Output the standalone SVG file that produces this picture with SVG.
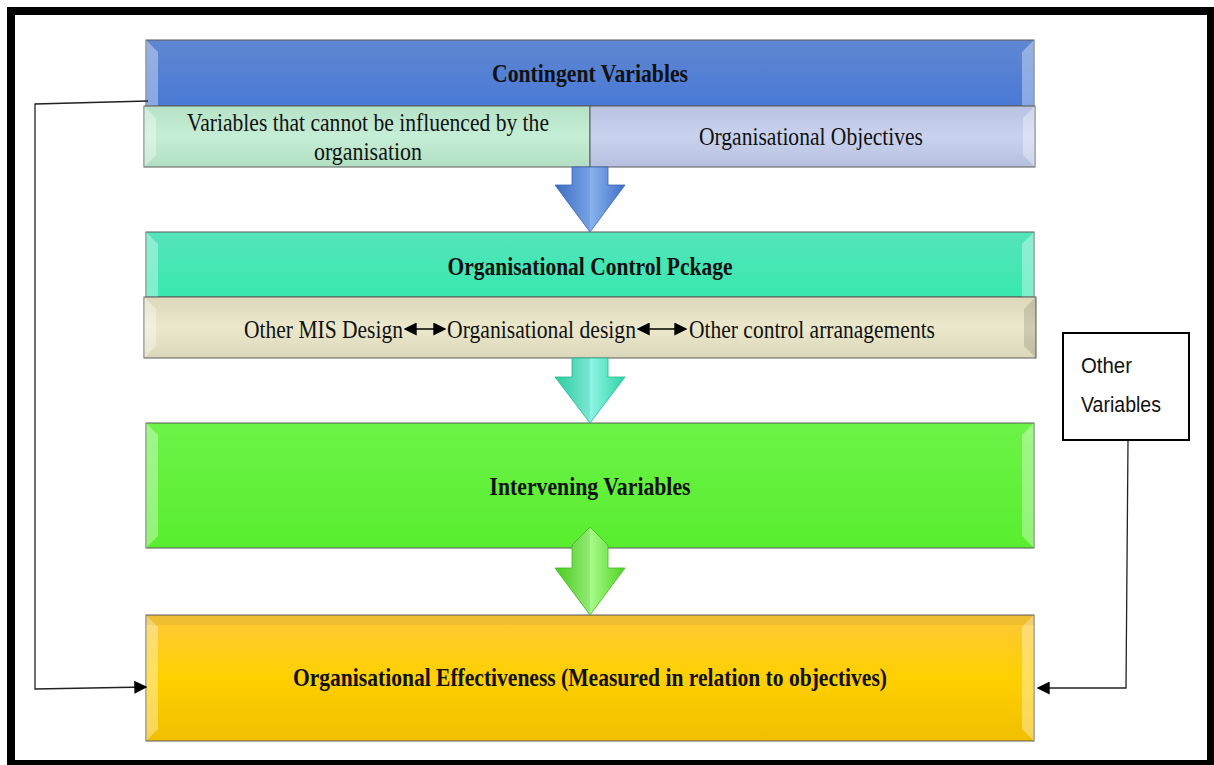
<svg xmlns="http://www.w3.org/2000/svg" width="1214" height="765" viewBox="0 0 1214 765">
<style>
.t{font-family:"Liberation Serif","Times New Roman",serif;font-size:25px;fill:#111}
.b{font-weight:bold}
.s{font-family:"Liberation Sans",Arial,sans-serif;font-size:22px;fill:#111}
.box{stroke:#5a5a5a;stroke-width:1}
.hl{fill:#ffffff;opacity:0.35}
.dk{fill:#000000;opacity:0.12}
.ln{fill:none;stroke:#222;stroke-width:1.3}
</style>
<defs>
<linearGradient id="gBlue" x1="0" y1="0" x2="0" y2="1"><stop offset="0" stop-color="#5f87d2"/><stop offset="1" stop-color="#4a7ad6"/></linearGradient>
<linearGradient id="gMint" x1="0" y1="0" x2="0" y2="1"><stop offset="0" stop-color="#b5e2c6"/><stop offset="0.5" stop-color="#c4eed6"/><stop offset="1" stop-color="#b2dfc3"/></linearGradient>
<linearGradient id="gLav" x1="0" y1="0" x2="0" y2="1"><stop offset="0" stop-color="#b9c2e1"/><stop offset="0.5" stop-color="#c9d2ee"/><stop offset="1" stop-color="#b6bfde"/></linearGradient>
<linearGradient id="gTeal" x1="0" y1="0" x2="0" y2="1"><stop offset="0" stop-color="#55e4bb"/><stop offset="1" stop-color="#38e8b0"/></linearGradient>
<linearGradient id="gBeige" x1="0" y1="0" x2="0" y2="1"><stop offset="0" stop-color="#ddd8bc"/><stop offset="0.5" stop-color="#ebe8cc"/><stop offset="1" stop-color="#dcd7bb"/></linearGradient>
<linearGradient id="gGreen" x1="0" y1="0" x2="0" y2="1"><stop offset="0" stop-color="#6cf348"/><stop offset="1" stop-color="#58ee2e"/></linearGradient>
<linearGradient id="gGold" x1="0" y1="0" x2="0" y2="1"><stop offset="0" stop-color="#fcc838"/><stop offset="0.5" stop-color="#ffd000"/><stop offset="1" stop-color="#f0bf00"/></linearGradient>
<linearGradient id="aBlue" x1="0" y1="0" x2="1" y2="0"><stop offset="0" stop-color="#3f6fc8"/><stop offset="0.5" stop-color="#8ab4ee"/><stop offset="1" stop-color="#3f6fc8"/></linearGradient>
<linearGradient id="aTeal" x1="0" y1="0" x2="1" y2="0"><stop offset="0" stop-color="#2fd4a6"/><stop offset="0.5" stop-color="#8ff5e6"/><stop offset="1" stop-color="#2fd4a6"/></linearGradient>
<linearGradient id="aGreen" x1="0" y1="0" x2="1" y2="0"><stop offset="0" stop-color="#4ed422"/><stop offset="0.5" stop-color="#a8fb8a"/><stop offset="1" stop-color="#4ed422"/></linearGradient>
<marker id="ah2" viewBox="0 0 10 10" refX="9" refY="5" markerWidth="13" markerHeight="13" markerUnits="userSpaceOnUse" orient="auto-start-reverse"><path d="M0,0 L10,5 L0,10 Z" fill="#000"/></marker>
</defs>
<rect x="0" y="0" width="1214" height="765" fill="#fff"/>
<rect x="11" y="11" width="1200" height="753" fill="#fff" stroke="#000" stroke-width="8"/>

<g id="contingent">
<rect class="box" x="146" y="40" width="888" height="66" fill="url(#gBlue)"/>
<polygon class="hl" points="146,40 158,52 158,106 146,106"/>
<polygon class="hl" points="1034,40 1022,52 1022,106 1034,106"/>
<text class="t b" x="590" y="82" text-anchor="middle" textLength="196" lengthAdjust="spacingAndGlyphs">Contingent Variables</text>
</g>
<g id="uncontrollable">
<rect class="box" x="144" y="106" width="446" height="61" fill="url(#gMint)"/>
<polygon class="hl" points="144,106 156,118 156,155 144,167"/>
<text class="t" x="368" y="131" text-anchor="middle" textLength="362" lengthAdjust="spacingAndGlyphs">Variables that cannot be influenced by the</text>
<text class="t" x="368" y="160" text-anchor="middle" textLength="108" lengthAdjust="spacingAndGlyphs">organisation</text>
</g>
<g id="objectives">
<rect class="box" x="590" y="106" width="445" height="61" fill="url(#gLav)"/>
<polygon class="hl" points="1035,106 1023,118 1023,155 1035,167"/>
<text class="t" x="811" y="145" text-anchor="middle" textLength="224" lengthAdjust="spacingAndGlyphs">Organisational Objectives</text>
</g>

<g id="control">
<rect class="box" x="146" y="232" width="888" height="65" fill="url(#gTeal)"/>
<polygon class="hl" points="146,232 158,244 158,297 146,297"/>
<polygon class="hl" points="1034,232 1022,244 1022,297 1034,297"/>
<text class="t b" x="590" y="275" text-anchor="middle" textLength="285" lengthAdjust="spacingAndGlyphs">Organisational Control Pckage</text>
</g>
<g id="designs">
<rect class="box" x="144" y="297" width="892" height="61" fill="url(#gBeige)"/>
<polygon class="hl" points="144,297 156,309 156,346 144,358"/>
<polygon class="dk" points="1036,297 1024,309 1024,346 1036,358"/>
<text class="t" x="244" y="338" textLength="159" lengthAdjust="spacingAndGlyphs">Other MIS Design</text>
<line x1="405" y1="329" x2="445" y2="329" stroke="#000" stroke-width="1.5" marker-start="url(#ah2)" marker-end="url(#ah2)"/>
<text class="t" x="447" y="338" textLength="189" lengthAdjust="spacingAndGlyphs">Organisational design</text>
<line x1="638" y1="329" x2="686" y2="329" stroke="#000" stroke-width="1.5" marker-start="url(#ah2)" marker-end="url(#ah2)"/>
<text class="t" x="689" y="338" textLength="246" lengthAdjust="spacingAndGlyphs">Other control arranagements</text>
</g>

<g id="intervening">
<rect class="box" x="146" y="423" width="888" height="125" fill="url(#gGreen)"/>
<polygon class="hl" points="146,423 158,435 158,536 146,548"/>
<polygon class="hl" points="1034,423 1022,435 1022,536 1034,548"/>
<text class="t b" x="590" y="495" text-anchor="middle" textLength="201" lengthAdjust="spacingAndGlyphs">Intervening Variables</text>
</g>

<g id="effectiveness">
<rect class="box" x="146" y="615" width="888" height="126" fill="url(#gGold)"/>
<polygon class="hl" points="146,615 158,627 158,729 146,741"/>
<polygon class="hl" points="1034,615 1022,627 1022,729 1034,741"/>
<rect x="146" y="615" width="888" height="10" fill="#000" opacity="0.05"/>
<text class="t b" x="590" y="686" text-anchor="middle" textLength="594" lengthAdjust="spacingAndGlyphs">Organisational Effectiveness (Measured in relation to objectives)</text>
</g>

<g id="other-variables">
<rect x="1063" y="333" width="126" height="107" fill="#fff" stroke="#000" stroke-width="2"/>
<text class="s" x="1081" y="373" textLength="51" lengthAdjust="spacingAndGlyphs">Other</text>
<text class="s" x="1081" y="412" textLength="80" lengthAdjust="spacingAndGlyphs">Variables</text>
</g>

<g id="connectors">
<path d="M572,167 L608,167 L608,185 L625,185 L590,232 L555,185 L572,185 Z" fill="url(#aBlue)" stroke="#3a66b8" stroke-width="0.8"/>
<path d="M590,167 L590,232 L555,185 L572,185 L572,167 Z" fill="#2f5fb8" opacity="0.2"/>
<path d="M572,358 L608,358 L608,377 L625,377 L590,423 L555,377 L572,377 Z" fill="url(#aTeal)" stroke="#22b78e" stroke-width="0.8"/>
<path d="M590,358 L590,423 L555,377 L572,377 L572,358 Z" fill="#1aa880" opacity="0.18"/>
<path d="M590,527 L608,545 L608,568 L625,568 L590,615 L555,568 L572,568 L572,545 Z" fill="url(#aGreen)" stroke="#44b81c" stroke-width="0.8"/>
<path d="M590,527 L590,615 L555,568 L572,568 L572,545 Z" fill="#2f9f10" opacity="0.18"/>
<polyline class="ln" points="148,101 35,104 35,689 146,687" marker-end="url(#ah2)"/>
<polyline class="ln" points="1128,441 1126,688 1038,688" marker-end="url(#ah2)"/>
</g>
</svg>
